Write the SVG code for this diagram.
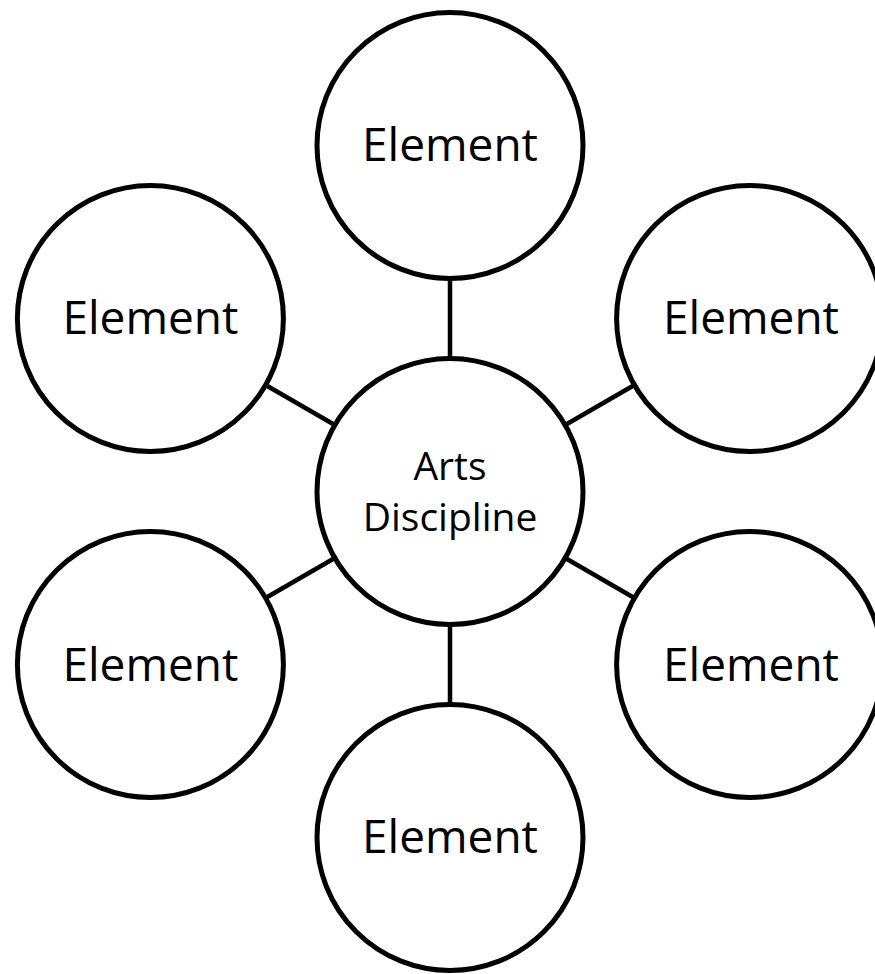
<svg xmlns="http://www.w3.org/2000/svg" width="875" height="974" viewBox="0 0 875 974">
<style>
.node{fill:#fff;stroke:#000;stroke-width:5}
.conn{stroke:#000;stroke-width:4.5;fill:none}
.lbl{font-family:"Open Sans","Noto Sans",sans-serif;font-size:46px;fill:#000;text-anchor:middle}
.clbl{font-family:"Open Sans","Noto Sans",sans-serif;font-size:39px;fill:#000;text-anchor:middle}
</style>
<rect width="875" height="974" fill="#fff"/>
<g id="connectors">
<line class="conn" x1="450" y1="358.5" x2="450" y2="278.5"/>
<line class="conn" x1="450" y1="624.5" x2="450" y2="704.5"/>
<line class="conn" x1="334.8" y1="425" x2="265.6" y2="385"/>
<line class="conn" x1="565.2" y1="425" x2="634.4" y2="385"/>
<line class="conn" x1="334.8" y1="558" x2="265.6" y2="598"/>
<line class="conn" x1="565.2" y1="558" x2="634.4" y2="598"/>
</g>
<g id="center">
<circle class="node" cx="450" cy="491.5" r="133"/>
<text class="clbl" x="450" y="480">Arts</text>
<text class="clbl" x="450" y="531">Discipline</text>
</g>
<g id="top">
<circle class="node" cx="450" cy="145.5" r="133"/>
<text class="lbl" x="450" y="161">Element</text>
</g>
<g id="left-top">
<circle class="node" cx="150.4" cy="318.5" r="133"/>
<text class="lbl" x="150.4" y="334">Element</text>
</g>
<g id="right-top">
<circle class="node" cx="749.6" cy="318.5" r="133"/>
<text class="lbl" x="751" y="334">Element</text>
</g>
<g id="left-bottom">
<circle class="node" cx="150.4" cy="664.5" r="133"/>
<text class="lbl" x="150.4" y="681">Element</text>
</g>
<g id="right-bottom">
<circle class="node" cx="749.6" cy="664.5" r="133"/>
<text class="lbl" x="751" y="681">Element</text>
</g>
<g id="bottom">
<circle class="node" cx="450" cy="837.5" r="133"/>
<text class="lbl" x="450" y="853">Element</text>
</g>
</svg>
